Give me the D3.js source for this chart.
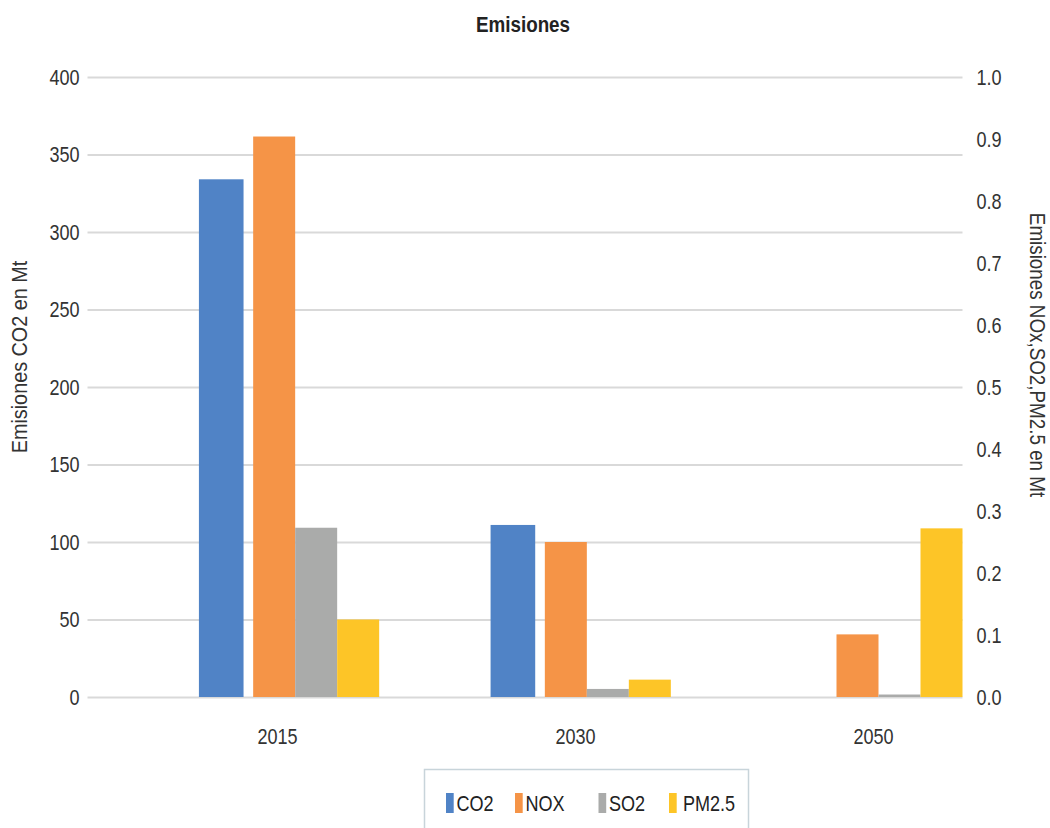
<!DOCTYPE html>
<html>
<head>
<meta charset="utf-8">
<script src="https://cdn.jsdelivr.net/npm/d3@7"></script>
<style>
  body { margin: 0; background: #fff; }
  svg text { font-family: "Liberation Sans", Arial, sans-serif; }
</style>
</head>
<body>
<svg id="chart" width="1050" height="828"></svg>
<script>
// Emission figures per year
const years = ["2015", "2030", "2050"];
const co2 = [334, 111, 0];            // Mt, left axis
const nox = [0.904, 0.25, 0.101];     // Mt, right axis
const so2 = [0.273, 0.013, 0.004];    // Mt, right axis
const pm25 = [0.125, 0.028, 0.272];   // Mt, right axis

const leftTicks = [0, 50, 100, 150, 200, 250, 300, 350, 400];
const rightTicks = [0, 0.1, 0.2, 0.3, 0.4, 0.5, 0.6, 0.7, 0.8, 0.9, 1.0];

const secondaryNames = ["NOX", "SO2", "PM2.5"];
const secondaryValues = [nox, so2, pm25];
const legendNames = ["CO2", "NOX", "SO2", "PM2.5"];
const colors = { "CO2": "#5083c6", "NOX": "#f59447", "SO2": "#aaabaa", "PM2.5": "#fdc527" };

const svg = d3.select("#chart");
const plot = { left: 87.5, right: 962.5, top: 77, bottom: 697 };

// narrow the glyphs horizontally to get a condensed face
function condense(sel, k) {
  sel.each(function () {
    const w = this.getComputedTextLength();
    d3.select(this).attr("textLength", w * k).attr("lengthAdjust", "spacingAndGlyphs");
  });
}

const x = d3.scaleBand().domain(years).range([plot.left, plot.right]);
const bw = x.bandwidth();
const xLabel = d3.scalePoint().domain(years).range([277, 873]);
const yL = d3.scaleLinear().domain([0, 400]).range([plot.bottom, plot.top]);
const yR = d3.scaleLinear().domain([0, 1]).range([plot.bottom, plot.top]);

// sub-scales inside each year: primary series and secondary group
const xPrim = d3.scaleBand().domain(["CO2"]).range([bw * 0.382, bw * 0.535]);
const xSec = d3.scaleBand().domain(secondaryNames).range([bw * 0.568, bw]);

const font = 22;
const k = 0.82;
const textColor = "#333";

// gridlines
const grid = svg.append("g")
  .attr("transform", `translate(${plot.left},0)`)
  .call(d3.axisLeft(yL).tickValues(leftTicks).tickSize(-(plot.right - plot.left)).tickFormat(""));
grid.select(".domain").remove();
grid.selectAll(".tick line").attr("stroke", "#d9d9d9").attr("stroke-width", 2);

// CO2 bars (left axis)
svg.append("g").selectAll("rect")
  .data(years.map((yr, i) => ({ yr, v: co2[i] })))
  .join("rect")
  .attr("x", d => x(d.yr) + xPrim("CO2"))
  .attr("width", xPrim.bandwidth())
  .attr("y", d => yL(d.v))
  .attr("height", d => yL(0) - yL(d.v))
  .attr("fill", colors["CO2"]);

// NOX / SO2 / PM2.5 bars (right axis)
const secData = [];
years.forEach((yr, i) => secondaryNames.forEach((s, j) => secData.push({ yr, s, v: secondaryValues[j][i] })));
svg.append("g").selectAll("rect")
  .data(secData)
  .join("rect")
  .attr("x", d => x(d.yr) + xSec(d.s))
  .attr("width", xSec.bandwidth())
  .attr("y", d => yR(d.v))
  .attr("height", d => yR(0) - yR(d.v))
  .attr("fill", d => colors[d.s]);

// left axis labels
const ax = svg.append("g")
  .attr("transform", `translate(${plot.left},0)`)
  .call(d3.axisLeft(yL).tickValues(leftTicks).tickSize(0).tickPadding(8));
ax.select(".domain").remove();

// right axis labels
const ar = svg.append("g")
  .attr("transform", `translate(${plot.right},0)`)
  .call(d3.axisRight(yR).tickValues(rightTicks).tickSize(0).tickPadding(14).tickFormat(d3.format(".1f")));
ar.select(".domain").remove();

// category labels
const axb = svg.append("g")
  .attr("transform", `translate(0,${plot.bottom})`)
  .call(d3.axisBottom(xLabel).tickSize(0).tickPadding(31));
axb.select(".domain").remove();

svg.selectAll(".tick text")
  .attr("font-family", null)
  .attr("font-size", font)
  .attr("fill", textColor)
  .call(condense, k);

// title
svg.append("text")
  .attr("x", 523).attr("y", 32)
  .attr("text-anchor", "middle")
  .attr("font-size", 22).attr("font-weight", "bold").attr("fill", "#222")
  .text("Emisiones")
  .call(condense, 0.855);

// axis titles
svg.append("text")
  .attr("transform", "translate(27,357) rotate(-90)")
  .attr("text-anchor", "middle")
  .attr("font-size", font).attr("fill", textColor)
  .text("Emisiones CO2 en Mt")
  .call(condense, 0.9);
svg.append("text")
  .attr("transform", "translate(1030,355) rotate(90)")
  .attr("text-anchor", "middle")
  .attr("font-size", font).attr("fill", textColor)
  .text("Emisiones NOx,SO2,PM2.5 en Mt")
  .call(condense, 0.855);

// legend
const legend = svg.append("g");
legend.append("rect")
  .attr("x", 424.5).attr("y", 769.5).attr("width", 324).attr("height", 80)
  .attr("fill", "#fff").attr("stroke", "#c8d4da").attr("stroke-width", 1.5);
const legendX = d3.scaleOrdinal().domain(legendNames).range([446, 515, 598.5, 669]);
const li = legend.selectAll("g.item").data(legendNames).join("g")
  .attr("class", "item")
  .attr("transform", d => `translate(${legendX(d)},793)`);
li.append("rect").attr("width", 7.7).attr("height", 20).attr("fill", d => colors[d]);
li.append("text")
  .attr("x", d => d === "PM2.5" ? 14 : 10.5).attr("y", 18)
  .attr("font-size", font).attr("fill", "#222")
  .text(d => d)
  .call(condense, k);
</script>
</body>
</html>
